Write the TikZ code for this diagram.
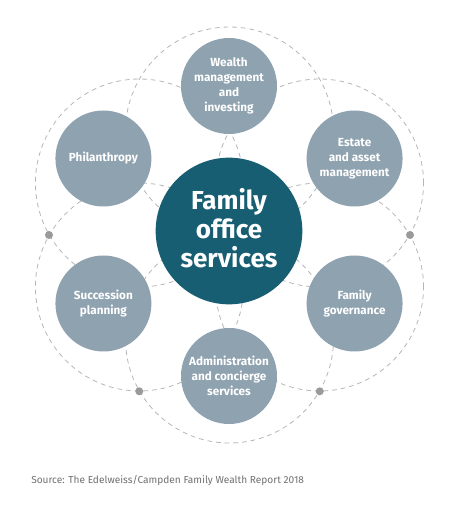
\documentclass[tikz,border=0pt]{standalone}
\usepackage{fontspec}
\setmainfont{Fira Sans}
\usetikzlibrary{calc}
\definecolor{hubteal}{HTML}{175E73}
\definecolor{petalgray}{HTML}{8FA2B0}
\definecolor{ringgray}{HTML}{B5B5B5}
\definecolor{dotgray}{HTML}{9A9A9A}
\definecolor{notegray}{HTML}{707070}
\tikzset{
    service/.style={circle, fill=petalgray, minimum size=72pt, inner sep=0pt, align=center, text=white, font=\bfseries\fontsize{8.8}{11.25}\selectfont},
    hub/.style={circle, fill=hubteal, minimum size=110pt, inner sep=0pt, align=center, text=white, font=\bfseries\fontsize{19.5}{21.75}\selectfont},
    ring/.style={draw=ringgray, line width=0.6pt, dash pattern=on 3.5pt off 3pt},
    knot/.style={circle, fill=dotgray, minimum size=6pt, inner sep=0pt}
}
\begin{document}
\begin{tikzpicture}[x=0.75pt, y=0.75pt]
            \useasboundingbox (0,0) rectangle (458,512);
            \coordinate (flower) at (229.5,277);
            \begin{scope}
                \foreach \a in {30,90,...,330}
                    \draw[ring] ($(flower)+(\a:104)$) circle (104);
            \end{scope}
            \foreach \a/\nm in {0/knotE, 180/knotW, 240/knotSW, 300/knotSE}
                \node[knot] (\nm) at ($(flower)+(\a:180.5)$) {};
            \node[hub] (hub) at (229,281) {};
            \node[align=center, text=white, font=\bfseries\fontsize{19.5}{21.75}\selectfont] (hubtext) at ($(hub)+(0,3)$) {Family\\office\\services};
            \node[service] (wealth) at ($(hub)+(90:145)$) {Wealth\\management\\and\\investing};
            \node[service] (estate) at ($(hub)+(30:145)$) {Estate\\and asset\\management};
            \node[service] (governance) at ($(hub)+(-30:145)$) {Family\\governance};
            \node[service] (admin) at ($(hub)+(-90:145)$) {Administration\\and concierge\\services};
            \node[service] (succession) at ($(hub)+(-150:145)$) {Succession\\planning};
            \node[service] (philanthropy) at ($(hub)+(150:145)$) {Philanthropy};
            \node[anchor=west, inner sep=0pt, text=notegray, font=\fontsize{7.6}{10}\selectfont] (source) at (31,32) {Source: The Edelweiss/Campden Family Wealth Report 2018};
        \end{tikzpicture}
\end{document}
